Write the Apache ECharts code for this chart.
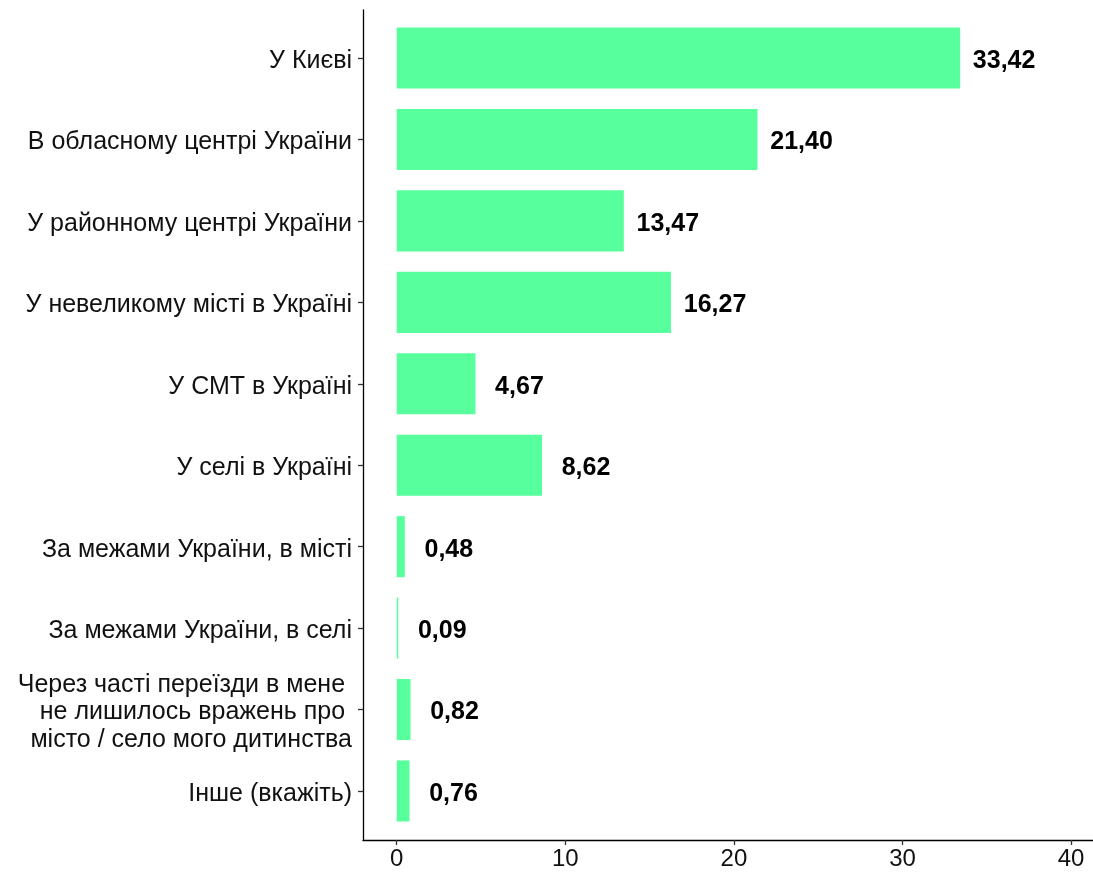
<!DOCTYPE html>
<html>
<head>
<meta charset="utf-8">
<script src="https://cdn.jsdelivr.net/npm/echarts@6/dist/echarts.min.js"></script>
<style>
html,body{margin:0;padding:0;background:#fff;}
#chart{width:1093px;height:872px;}
</style>
</head>
<body>
<div id="chart"></div>
<script>
const categories = [
  'У Києві',
  'В обласному центрі України',
  'У районному центрі України',
  'У невеликому місті в Україні',
  'У СМТ в Україні',
  'У селі в Україні',
  'За межами України, в місті',
  'За межами України, в селі',
  'Через часті переїзди в мене \nне лишилось вражень про \nмісто / село мого дитинства',
  'Інше (вкажіть)'
];
const values = [33.42, 21.40, 13.47, 16.27, 4.67, 8.62, 0.48, 0.09, 0.82, 0.76];
const xTicks = [0, 10, 20, 30, 40];

const FONT = '"Liberation Sans", Arial, sans-serif';
const X_MIN = -2, X_MAX = 41.3;

const chart = echarts.init(document.getElementById('chart'), null, {renderer: 'canvas'});
chart.setOption({
  animation: false,
  backgroundColor: '#ffffff',
  grid: [
    {left: 363, right: 0, top: 17.3, height: 814.4, containLabel: false},
    {left: 363, right: 0, top: 10, bottom: 32, containLabel: false},
    {left: 363, right: 0, top: 20.3, height: 814.4, containLabel: false}
  ],
  xAxis: [
    {gridIndex: 0, type: 'value', min: X_MIN, max: X_MAX, show: false},
    {
      gridIndex: 1, type: 'value', min: X_MIN, max: X_MAX,
      axisLine: {show: true, onZero: false, lineStyle: {color: '#000', width: 1.3}},
      axisTick: {show: true, length: 5, customValues: xTicks, lineStyle: {color: '#333', width: 1.3}},
      axisLabel: {show: true, customValues: xTicks, fontFamily: FONT, fontSize: 24, color: '#111', margin: 7},
      splitLine: {show: false}
    },
    {gridIndex: 2, type: 'value', min: X_MIN, max: X_MAX, show: false}
  ],
  yAxis: [
    {
      gridIndex: 0, type: 'category', data: categories, inverse: true,
      axisLine: {show: false, onZero: false},
      axisTick: {show: true, alignWithLabel: true, length: 5, lineStyle: {color: '#333', width: 1.3}},
      axisLabel: {show: false}
    },
    {
      gridIndex: 1, type: 'value', min: 0, max: 1,
      axisLine: {show: true, onZero: false, lineStyle: {color: '#000', width: 1.3}},
      axisTick: {show: false}, axisLabel: {show: false}, splitLine: {show: false}
    },
    {
      gridIndex: 2, type: 'category', data: categories, inverse: true,
      axisLine: {show: false, onZero: false},
      axisTick: {show: false},
      axisLabel: {fontFamily: FONT, fontSize: 25, color: '#111', margin: 11, lineHeight: 27.3, align: 'right'}
    }
  ],
  series: [{
    type: 'bar',
    xAxisIndex: 0, yAxisIndex: 0,
    data: values,
    barWidth: '75%',
    itemStyle: {color: '#57FF9D'},
    label: {
      show: true, position: 'right', distance: 44, align: 'center', offset: [0, 3],
      fontFamily: FONT, fontWeight: 'bold', fontSize: 25, color: '#000',
      formatter: p => p.value.toFixed(2).replace('.', ',')
    }
  }]
});
</script>
</body>
</html>
